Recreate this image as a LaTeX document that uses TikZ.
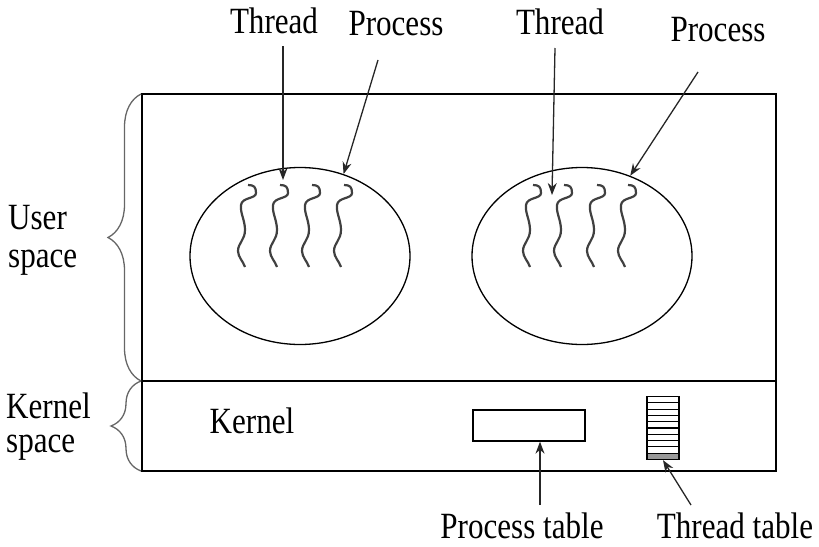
\documentclass[tikz,border=0pt]{standalone}
\usepackage{fontspec}
\setmainfont{Liberation Serif}[FakeStretch=0.84]
\usetikzlibrary{decorations.pathreplacing,arrows.meta,shapes.geometric}
\begin{document}
\begin{tikzpicture}[x=1pt,y=-1pt,
  lbl/.style={font=\fontsize{37}{38}\selectfont, inner sep=0pt},
  box/.style={draw=black, line width=1.3pt},
  proc/.style={draw=black, line width=1.3pt, ellipse, inner sep=0pt, minimum width=220pt, minimum height=177pt},
  arr/.style={draw=black!85, line width=1.3pt, -{Stealth[length=12pt,width=9pt]}},
  thr/.style={draw=black!75, line width=2.2pt},
  brc/.style={draw=black!60, line width=1.3pt, decorate},
  thread/.pic={\draw[thr] (0,0) .. controls (6,0) and (8,2) .. (8,8) .. controls (8,14) and (-6,12) .. (-7,20) .. controls (-8,28) and (-3,35) .. (-3,45) .. controls (-3,55) and (-10,58) .. (-10,66) .. controls (-10,72) and (-5,76) .. (-3,82);}
]
\useasboundingbox (0,0) rectangle (819,546);
% main box
\draw[box] (142,94) rectangle (776,471);
\draw[box] (142,381) -- (776,381);
% braces
\draw[brc, decoration={brace,amplitude=33pt}] (141,381) -- (141,94);
\draw[brc, decoration={brace,amplitude=30pt}] (141,471) -- (141,381);
% side labels
\node[lbl, anchor=west, align=left] (us) at (8,240) {User\\[0pt]space};
\node[lbl, anchor=west, align=left] (ks) at (6,427) {Kernel\\[-4pt]space};
% processes
\node[proc] (pl) at (300,256) {};
\node[proc] (pr) at (582,256) {};
% threads
\foreach \x in {248,280,312,344} \pic at (\x,185) {thread};
\foreach \x in {533,564,597,628} \pic at (\x,185) {thread};
% top labels
\node[lbl] (t1) at (274,21) {Thread};
\node[lbl] (p1) at (396,24) {Process};
\node[lbl] (t2) at (560,22) {Thread};
\node[lbl] (p2) at (718,30) {Process};
\coordinate (t1s) at (283,46);
\coordinate (t1e) at (283,180);
\coordinate (p1s) at (378,60);
\coordinate (t2s) at (555,48);
\coordinate (t2e) at (552,195);
\coordinate (p2s) at (698,72);
\draw[arr] (t1s) -- (t1e);
\draw[arr] (p1s) -- (pl.62);
\draw[arr] (t2s) -- (t2e);
\draw[arr] (p2s) -- (pr.59);
% kernel
\node[lbl] (k) at (252,421) {Kernel};
\node[draw=black, line width=1.3pt, minimum width=112pt, minimum height=31pt, inner sep=0pt] (ptab) at (529,425.5) {};
\node[draw=black, line width=1.3pt, minimum width=32pt, minimum height=63pt, inner sep=0pt] (ttab) at (663,428) {};
\foreach \k in {1,...,9} \draw[black, line width=1.1pt] (647,396.5+6.3*\k) -- (679,396.5+6.3*\k);
\fill[black!40] (647.7,453.5) rectangle (678.3,459);
\node[lbl] (ptl) at (522,526) {Process table};
\node[lbl] (ttl) at (735,526) {Thread table};
\coordinate (ptls) at (540,505);
\coordinate (ttls) at (691,505);
\draw[arr] (ptls) -- (ptab.south -| ptls);
\draw[arr] (ttls) -- (ttab.south);
\end{tikzpicture}
\end{document}
